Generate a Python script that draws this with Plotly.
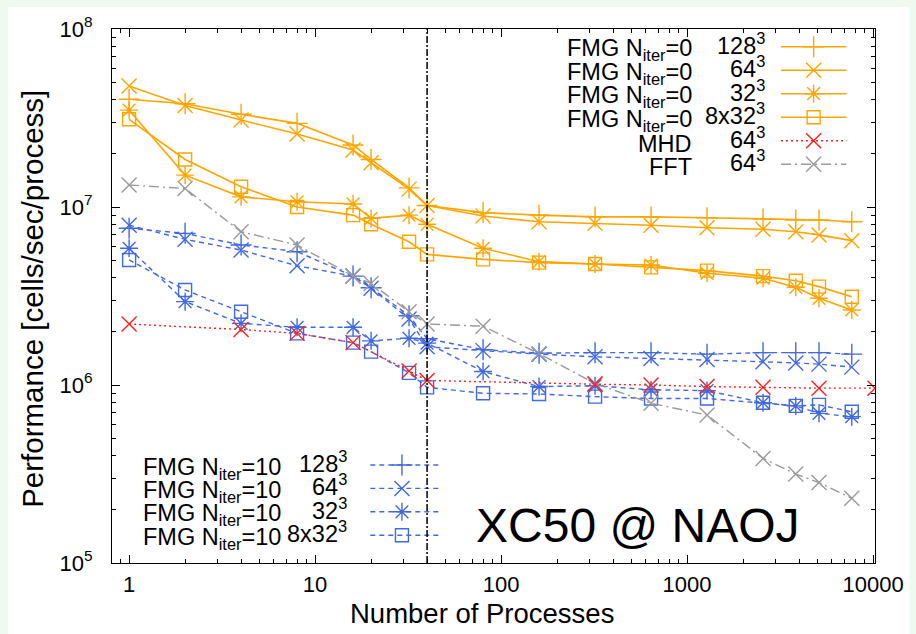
import plotly.graph_objects as go

# ---- data -------------------------------------------------------------
procs = [1, 2, 4, 8, 16, 20, 32, 40, 80, 160, 320, 640, 1280, 2560, 3840, 5120, 7680]
procs_mhd = [1, 4, 8, 16, 32, 40, 320, 640, 1280, 2560, 5120, 10240]

fmg0_128 = [4.03e7, 3.80e7, 3.32e7, 2.95e7, 2.23e7, 1.85e7, 1.28e7, 1.02e7, 9.3e6,
            9.0e6, 8.8e6, 8.8e6, 8.7e6, 8.57e6, 8.45e6, 8.45e6, 8.26e6]
fmg0_64 = [4.78e7, 3.72e7, 3.08e7, 2.57e7, 2.09e7, 1.77e7, 1.26e7, 1.02e7, 8.9e6,
           8.26e6, 8.1e6, 7.9e6, 7.65e6, 7.5e6, 7.26e6, 6.97e6, 6.47e6]
fmg0_32 = [3.5e7, 1.51e7, 1.14e7, 1.07e7, 1.04e7, 8.63e6, 9.0e6, 8.0e6, 5.86e6,
           4.93e6, 4.78e6, 4.72e6, 4.24e6, 3.98e6, 3.54e6, 3.07e6, 2.64e6]
fmg0_8x32 = [3.11e7, 1.85e7, 1.3e7, 1.0e7, 9.0e6, 8.0e6, 6.38e6, 5.42e6, 5.08e6,
             4.87e6, 4.78e6, 4.58e6, 4.39e6, 4.09e6, 3.85e6, 3.57e6, 3.13e6]

fmg10_128 = [7.6e6, 7.11e6, 6.12e6, 5.61e6, 4.09e6, 3.52e6, 2.45e6, 1.82e6, 1.58e6,
             1.51e6, 1.52e6, 1.52e6, 1.49e6, 1.52e6, 1.52e6, 1.52e6, 1.49e6]
fmg10_64 = [7.9e6, 6.58e6, 5.73e6, 4.67e6, 4.09e6, 3.5e6, 2.35e6, 1.64e6, 1.56e6,
            1.49e6, 1.44e6, 1.41e6, 1.39e6, 1.35e6, 1.33e6, 1.31e6, 1.26e6]
fmg10_32 = [5.86e6, 2.94e6, 2.22e6, 2.11e6, 2.11e6, 1.77e6, 1.83e6, 1.72e6, 1.19e6,
            9.8e5, 9.9e5, 9.4e5, 9.3e5, 7.95e5, 7.63e5, 6.93e5, 6.64e5]
fmg10_8x32 = [5.04e6, 3.42e6, 2.58e6, 1.95e6, 1.73e6, 1.54e6, 1.17e6, 9.7e5, 8.98e5,
              8.9e5, 8.6e5, 8.4e5, 8.4e5, 7.95e5, 7.63e5, 7.73e5, 7.07e5]

fft_64 = [1.33e7, 1.27e7, 7.26e6, 6.12e6, 4.09e6, 3.72e6, 2.58e6, 2.2e6, 2.14e6,
          1.5e6, 1.02e6, 7.9e5, 6.78e5, 3.87e5, 3.16e5, 2.83e5, 2.31e5]
mhd_64 = [2.2e6, 2.05e6, 1.95e6, 1.73e6, 1.2e6, 1.06e6, 1.01e6, 1.0e6, 9.8e5,
          9.7e5, 9.6e5, 9.6e5]

cores_per_node = 40

x_ticks = [1, 10, 100, 1000, 10000]
x_ticktext = ["1", "10", "100", "1000", "10000"]
y_ticks = [1e5, 1e6, 1e7, 1e8]
y_ticktext = ["10<sup>5</sup>", "10<sup>6</sup>", "10<sup>7</sup>", "10<sup>8</sup>"]

# ---- styling ----------------------------------------------------------
FONT = "Liberation Sans"
ORANGE = "#FFA500"
BLUE = "#4169E1"
RED = "#FF2020"
GRAY = "#9A9A9A"

# plot area in pixels (figure is 916 x 634)
W, H = 916, 634
L, R, T, B = 112, 883, 29, 563

sym = {"128": "cross-thin", "64": "x-thin", "32": "asterisk", "8x32": "square-open"}

series = [
    # label, size, x, y, color, dash, symbol key, key group
    ("FMG N<sub>iter</sub>=0", "128", procs, fmg0_128, ORANGE, "solid", "128", "top"),
    ("FMG N<sub>iter</sub>=0", "64", procs, fmg0_64, ORANGE, "solid", "64", "top"),
    ("FMG N<sub>iter</sub>=0", "32", procs, fmg0_32, ORANGE, "solid", "32", "top"),
    ("FMG N<sub>iter</sub>=0", "8x32", procs, fmg0_8x32, ORANGE, "solid", "8x32", "top"),
    ("MHD", "64", procs_mhd, mhd_64, RED, "2px,3px", "64", "top"),
    ("FFT", "64", procs, fft_64, GRAY, "10px,4px,2px,4px", "64", "top"),
    ("FMG N<sub>iter</sub>=10", "128", procs, fmg10_128, BLUE, "5px,4px", "128", "bottom"),
    ("FMG N<sub>iter</sub>=10", "64", procs, fmg10_64, BLUE, "5px,4px", "64", "bottom"),
    ("FMG N<sub>iter</sub>=10", "32", procs, fmg10_32, BLUE, "5px,4px", "32", "bottom"),
    ("FMG N<sub>iter</sub>=10", "8x32", procs, fmg10_8x32, BLUE, "5px,4px", "8x32", "bottom"),
]

fig = go.Figure()


def marker(color, key):
    size = 13 if key == "8x32" else 15
    return dict(symbol=sym[key], size=size, color=color,
                line=dict(color=color, width=1.4))


# data traces (back groups first)
for name, size_key, xs, ys, color, dash, key, grp in series[::-1]:
    fig.add_trace(go.Scatter(
        x=xs, y=ys, mode="lines+markers",
        line=dict(color=color, width=1.6 if color == ORANGE else 1.4, dash=dash),
        marker=marker(color, key),
        showlegend=False, hoverinfo="skip",
    ))

# hand-built keys: text on the left, sample line + marker on the right
LEG_FONT = 23.5
legend_layout = {
    "top": dict(y0=46.7, dy=23.5, name_right=700, size_right=774,
                line_x=(788, 854), mark_x=821),
    "bottom": dict(y0=465.0, dy=23.4, name_right=285, size_right=351,
                   line_x=(373, 442), mark_x=405),
}
counters = {"top": 0, "bottom": 0}
annotations = []
for name, size_key, xs, ys, color, dash, key, grp in series:
    lay = legend_layout[grp]
    yy = lay["y0"] + lay["dy"] * counters[grp]
    counters[grp] += 1
    fig.add_trace(go.Scatter(
        x=list(lay["line_x"]), y=[yy, yy], mode="lines",
        line=dict(color=color, width=1.6 if color == ORANGE else 1.4, dash=dash),
        xaxis="x2", yaxis="y2", showlegend=False, hoverinfo="skip", cliponaxis=False,
    ))
    fig.add_trace(go.Scatter(
        x=[lay["mark_x"]], y=[yy], mode="markers", marker=marker(color, key),
        xaxis="x2", yaxis="y2", showlegend=False, hoverinfo="skip", cliponaxis=False,
    ))
    annotations.append(dict(
        x=lay["name_right"], y=yy, xref="x2", yref="y2", text=name,
        xanchor="right", yanchor="middle", showarrow=False, yshift=-3,
        font=dict(family=FONT, size=LEG_FONT, color="black")))
    annotations.append(dict(
        x=lay["size_right"], y=yy, xref="x2", yref="y2",
        text=size_key + "<sup>3</sup>",
        xanchor="right", yanchor="middle", showarrow=False, yshift=3,
        font=dict(family=FONT, size=LEG_FONT, color="black")))


def px_x(p):
    return (p - L) / (R - L)


def px_y(p):
    return (B - p) / (B - T)


annotations += [
    dict(x=px_x(643), y=px_y(525), xref="paper", yref="paper", text="XC50 @ NAOJ",
         showarrow=False, xanchor="center", yanchor="middle",
         font=dict(family=FONT, size=48, color="black")),
    dict(x=px_x(486), y=px_y(613), xref="paper", yref="paper",
         text="Number of Processes", showarrow=False,
         xanchor="center", yanchor="middle",
         font=dict(family=FONT, size=27.5, color="black")),
    dict(x=px_x(31), y=px_y(299), xref="paper", yref="paper",
         text="Performance [cells/sec/process]", showarrow=False, textangle=-90,
         xanchor="center", yanchor="middle",
         font=dict(family=FONT, size=29.5, color="black")),
]

axis_common = dict(
    showgrid=False, zeroline=False, showline=True, linecolor="black", linewidth=1.2,
    mirror="allticks", ticks="inside", ticklen=8, tickwidth=1.2, tickcolor="black",
    tickfont=dict(family=FONT, size=22, color="black"),
    minor=dict(ticks="inside", ticklen=4, tickwidth=1, tickcolor="black", dtick="D1",
               showgrid=False),
)

fig.update_layout(
    width=W, height=H,
    margin=dict(l=L, r=W - R, t=T, b=H - B, pad=0),
    paper_bgcolor="#EEFAEF",
    plot_bgcolor="white",
    xaxis=dict(type="log", range=[-0.092, 4.0103], tickvals=x_ticks,
               ticktext=x_ticktext, ticklabelstandoff=1, **axis_common),
    yaxis=dict(type="log", range=[5, 8], tickvals=y_ticks,
               ticktext=y_ticktext, ticklabelstandoff=14, **axis_common),
    xaxis2=dict(overlaying="x", range=[L, R], visible=False, anchor="y2"),
    yaxis2=dict(overlaying="y", range=[B, T], visible=False, anchor="x2"),
    shapes=[
        dict(type="rect", xref="paper", yref="paper", layer="below",
             x0=px_x(7), x1=px_x(W + 2), y0=px_y(H + 2), y1=px_y(7),
             fillcolor="white", line=dict(width=0)),
        dict(type="line", xref="x", yref="paper", x0=cores_per_node, x1=cores_per_node,
             y0=0, y1=1, line=dict(color="black", width=1.5, dash="7px,2px,2px,2px")),
    ],
    annotations=annotations,
)

fig.write_html("out.html")
